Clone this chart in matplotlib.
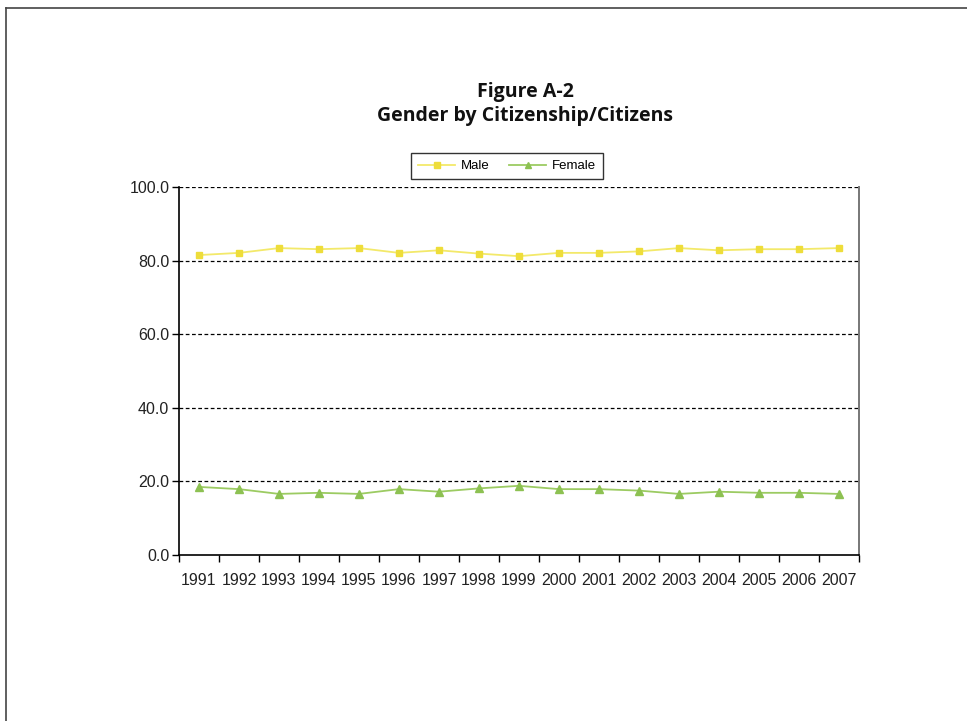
import numpy as np
import matplotlib.pyplot as plt
from matplotlib.lines import Line2D

plt.rcParams["font.family"] = ["Liberation Sans", "DejaVu Sans"]

years = ["1991", "1992", "1993", "1994", "1995", "1996", "1997", "1998", "1999",
         "2000", "2001", "2002", "2003", "2004", "2005", "2006", "2007"]
male = [81.5, 82.1, 83.4, 83.1, 83.4, 82.1, 82.8, 81.9, 81.2,
        82.1, 82.1, 82.5, 83.4, 82.8, 83.1, 83.1, 83.4]
female = [18.5, 17.9, 16.6, 16.9, 16.6, 17.9, 17.2, 18.1, 18.8,
          17.9, 17.9, 17.5, 16.6, 17.2, 16.9, 16.9, 16.6]
y_ticks = [0, 20, 40, 60, 80, 100]

fig = plt.figure(figsize=(9.67, 7.21), dpi=100)

# page frame
fig.add_artist(Line2D([6 / 967, 1.0], [1 - 7.5 / 721, 1 - 7.5 / 721],
                      transform=fig.transFigure, color="#444444", lw=1.2))
fig.add_artist(Line2D([6 / 967, 6 / 967], [0, 1 - 7.5 / 721],
                      transform=fig.transFigure, color="#444444", lw=1.2))

ax = fig.add_axes([179 / 967, 166 / 721, 680 / 967, 368 / 721])
x = np.arange(len(years))

for y in y_ticks[1:]:
    ax.axhline(y, color="black", lw=0.9, ls=(0, (3, 2)), zorder=1)

ax.plot(x, male, color="#F3E96A", lw=1.3, marker="s", ms=5,
        mfc="#EEDD3A", mec="#EEDD3A", label="Male", zorder=3)
ax.plot(x, female, color="#9CCB62", lw=1.3, marker="^", ms=5.5,
        mfc="#8DC152", mec="#8DC152", label="Female", zorder=3)

ax.set_xlim(-0.5, len(years) - 0.5)
ax.set_ylim(0, 100)
ax.set_yticks(y_ticks)
ax.set_yticklabels([f"{v:.1f}" for v in y_ticks], fontsize=11.5, color="#222222")

# category ticks between years, labels centred
ax.set_xticks(np.arange(-0.5, len(years), 1.0))
ax.set_xticklabels([])
ax.set_xticks(x, minor=True)
ax.set_xticklabels(years, minor=True, fontsize=11.5, color="#222222")
ax.tick_params(axis="x", which="major", length=5, width=1, direction="out")
ax.tick_params(axis="x", which="minor", length=0, pad=13)
ax.tick_params(axis="y", length=5, width=1, direction="out", pad=2)

ax.spines["top"].set_visible(False)
ax.spines["right"].set_color("#777777")
ax.spines["right"].set_linewidth(1.4)
ax.spines["left"].set_linewidth(1.2)
ax.spines["bottom"].set_linewidth(1.2)

fig.text(525 / 967, 1 - 92 / 721, "Figure A-2", ha="center", va="center",
         fontsize=14, fontweight="bold", color="#111111", family=["Open Sans", "DejaVu Sans"])
fig.text(525 / 967, 1 - 116 / 721, "Gender by Citizenship/Citizens", ha="center",
         va="center", fontsize=14, fontweight="bold", color="#111111",
         family=["Open Sans", "DejaVu Sans"])

leg = fig.legend(loc="center", bbox_to_anchor=(507 / 967, 1 - 166 / 721), ncol=2,
                 fontsize=9.5, frameon=True, fancybox=False, edgecolor="black",
                 handlelength=2.8, columnspacing=1.5, handletextpad=0.4,
                 borderpad=0.55, markerscale=0.9)
leg.get_frame().set_linewidth(1.0)

fig.savefig("out.png", dpi=100)
